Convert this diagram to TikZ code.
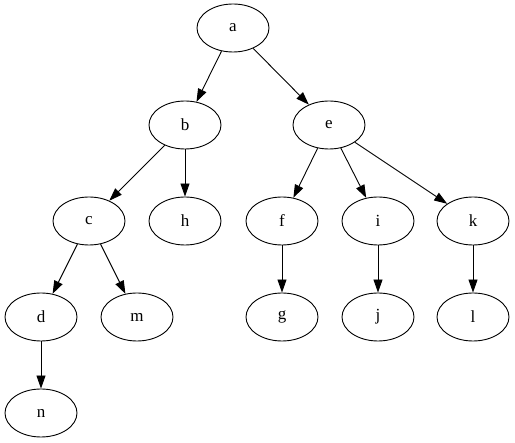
\documentclass[tikz,border=0pt]{standalone}
\usepackage{fontspec}
\setmainfont{Liberation Serif}
\usetikzlibrary{shapes.geometric,arrows.meta}
\begin{document}
\begin{tikzpicture}[x=1pt,y=-1pt,
  tn/.style={ellipse,draw,line width=0.9pt,minimum width=72pt,minimum height=48pt,inner sep=0pt,font=\fontsize{17}{19}\selectfont},
  ed/.style={draw,line width=0.9pt,-{Triangle[length=13pt,width=9pt]}}]
\useasboundingbox (0,0) rectangle (515,443);
\node[tn] (a) at (233,28) {a};
\node[tn] (b) at (185,125) {b};
\node[tn] (e) at (329,125) {e};
\node[tn] (c) at (89,221) {c};
\node[tn] (h) at (185,221) {h};
\node[tn] (f) at (282,221) {f};
\node[tn] (i) at (378,221) {i};
\node[tn] (k) at (473,221) {k};
\node[tn] (d) at (41,317) {d};
\node[tn] (m) at (137,317) {m};
\node[tn] (g) at (282,317) {g};
\node[tn] (j) at (378,317) {j};
\node[tn] (l) at (473,317) {l};
\node[tn] (n) at (41,413) {n};
\draw[ed] (a) -- (b);
\draw[ed] (a) -- (e);
\draw[ed] (b) -- (c);
\draw[ed] (b) -- (h);
\draw[ed] (e) -- (f);
\draw[ed] (e) -- (i);
\draw[ed] (e) -- (k);
\draw[ed] (c) -- (d);
\draw[ed] (c) -- (m);
\draw[ed] (f) -- (g);
\draw[ed] (i) -- (j);
\draw[ed] (k) -- (l);
\draw[ed] (d) -- (n);
\end{tikzpicture}
\end{document}
